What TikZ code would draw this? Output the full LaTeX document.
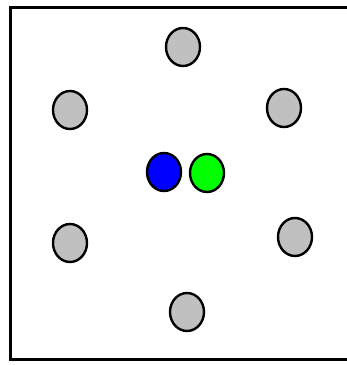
\documentclass[tikz,border=0pt]{standalone}
\usetikzlibrary{shapes.geometric}
\definecolor{silver}{RGB}{192,192,192}
\begin{document}
\begin{tikzpicture}[x=1pt,y=-1pt,
  ball/.style={ellipse,draw=black,line width=2.4pt,inner sep=0pt,
    minimum width=34pt,minimum height=38pt},
  outer/.style={ball,fill=silver}]
  \useasboundingbox (0,0) rectangle (347,365);
  % frame, its right side lies past the page edge
  \draw[line width=3pt] (360,7) -- (10,7) -- (10,359.5) -- (360,359.5);

  \node[outer] (T) at (183,47) {};
  \node[outer] (UL) at (70,110) {};
  \node[outer] (UR) at (284,108) {};
  \node[outer] (LL) at (70,243) {};
  \node[outer] (LR) at (295,237) {};
  \node[outer] (B) at (187,312) {};

  \node[ball,fill=blue] (C1) at (164,172) {};
  \node[ball,fill=green] (C2) at (207,173) {};
\end{tikzpicture}
\end{document}
